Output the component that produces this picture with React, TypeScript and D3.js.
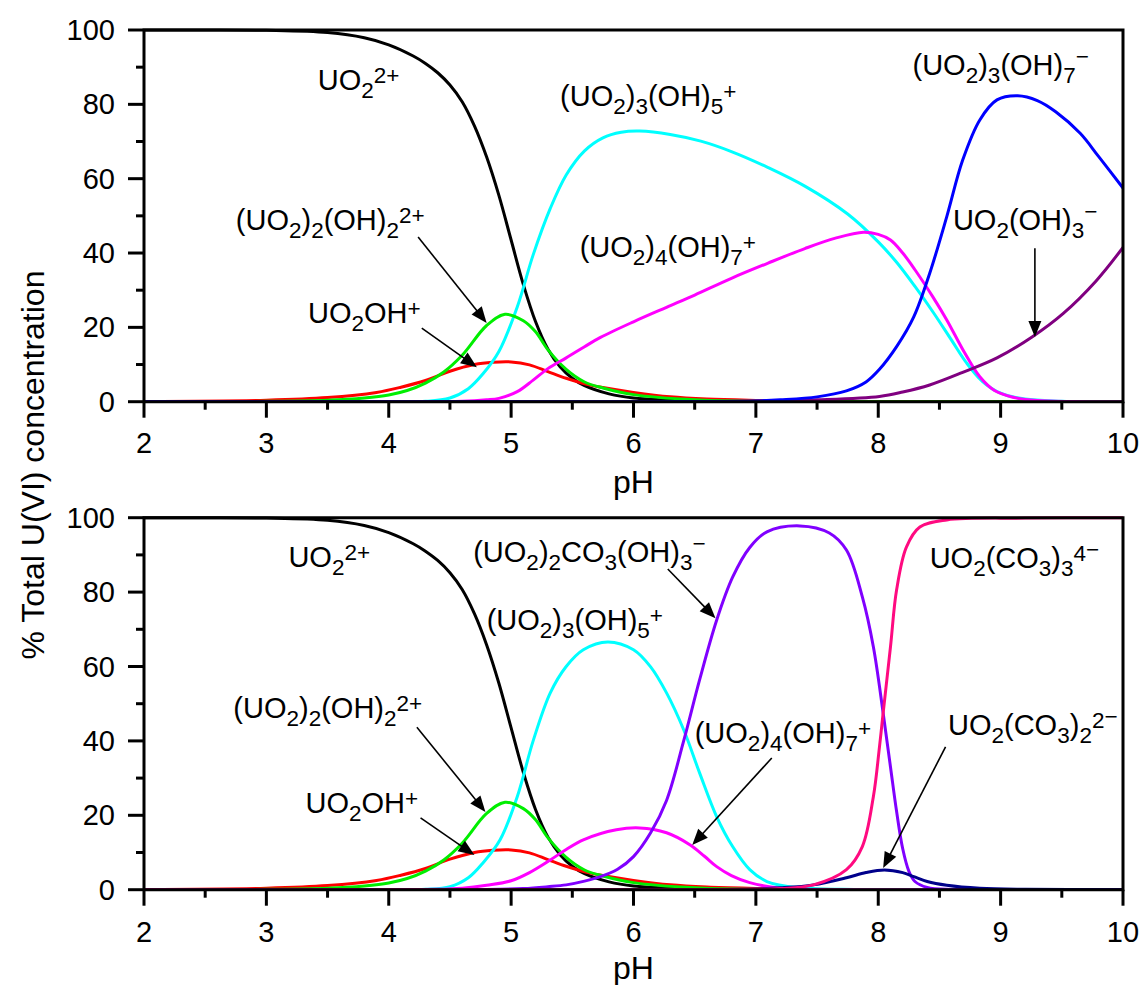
import React from 'react';
import * as d3 from 'd3';

// ---------- axis ticks ----------
const PH_MAJOR = [2, 3, 4, 5, 6, 7, 8, 9, 10];
const PH_MINOR = [2.5, 3.5, 4.5, 5.5, 6.5, 7.5, 8.5, 9.5];
const PCT_MAJOR = [0, 20, 40, 60, 80, 100];
const PCT_MINOR = [10, 30, 50, 70, 90];

// ---------- series data: [pH, % of total U(VI)] ----------
const uo2 = [[2,100],[2.5,100],[3,99.9],[3.5,99.3],[3.8,97.9],[4,96],[4.2,93],[4.3,91],[4.4,88.5],[4.5,85.2],[4.6,80.7],[4.7,74.2],[4.8,65.8],[4.9,55.5],[5,43.5],[5.1,31.5],[5.2,21.5],[5.3,14.2],[5.4,9.4],[5.5,6.3],[5.6,4.3],[5.8,2.1],[6,1],[6.5,0.2],[7,0.05],[8,0],[10,0]];
const dimer = [[2,0],[3,0.1],[3.5,0.4],[3.8,1],[4,1.8],[4.15,3],[4.3,5],[4.45,8],[4.6,12.5],[4.8,20.5],[4.95,23.5],[5.1,21.8],[5.2,18.8],[5.3,14],[5.45,8.7],[5.6,5.3],[5.75,3.7],[6,1.9],[6.5,0.5],[7,0.1],[8,0],[10,0]];
const uo2oh = [[2,0.05],[3,0.4],[3.5,1.1],[3.9,2.5],[4.1,3.9],[4.3,5.7],[4.5,8.2],[4.7,10],[4.85,10.6],[5,10.7],[5.15,9.9],[5.3,8.1],[5.45,6.3],[5.6,4.8],[5.75,3.8],[6,2.5],[6.3,1.3],[6.6,0.7],[7,0.35],[7.5,0.1],[8,0.03],[10,0]];
const trimer5Top = [[2,0],[3,0],[4,0],[4.3,0.1],[4.5,1],[4.65,3.5],[4.77,7.5],[4.9,13.5],[5.05,25.5],[5.18,39.5],[5.32,52],[5.45,61],[5.6,67.5],[5.75,71],[5.9,72.5],[6.05,72.8],[6.3,71.9],[6.55,70.1],[6.8,67.3],[7.1,63],[7.4,58],[7.75,50.5],[8,43],[8.15,37.5],[8.3,31],[8.45,24],[8.6,16.5],[8.72,10.5],[8.85,5.5],[9,2.3],[9.2,0.7],[9.5,0.15],[10,0]];
const tetramerTop = [[2,0],[3,0],[4,0],[4.6,0.1],[4.8,0.5],[4.9,0.9],[5.05,2.7],[5.18,5.8],[5.3,8.9],[5.45,11.8],[5.6,14.8],[5.73,17.3],[6,21.5],[6.27,25.4],[6.5,28.7],[6.8,33.2],[7.1,37.3],[7.4,41.2],[7.65,44],[7.88,45.6],[8,45],[8.1,43.5],[8.2,40],[8.3,35.5],[8.45,28],[8.56,22],[8.7,13.5],[8.83,6.7],[8.95,3],[9.1,1.2],[9.3,0.3],[9.6,0.05],[10,0]];
const trimer7 = [[2,0],[4,0],[6,0],[6.5,0.05],[7,0.2],[7.2,0.5],[7.5,1.3],[7.74,2.9],[7.9,5.3],[8.01,8.7],[8.15,14.8],[8.29,22.8],[8.42,34.5],[8.56,49.8],[8.69,65],[8.83,75.8],[8.97,81.2],[9.14,82.3],[9.3,81],[9.45,78],[9.65,72.2],[9.8,66],[10,57.5]];
const uo2oh3 = [[2,0],[4,0],[6,0],[6.5,0.05],[7,0.15],[7.5,0.5],[8.01,1.4],[8.2,2.6],[8.42,4.5],[8.69,7.9],[8.97,11.8],[9.26,17.5],[9.51,23.7],[9.78,32.5],[10,41.5]];

const trimer5Bot = [[2,0],[3,0],[4,0],[4.3,0.1],[4.5,0.8],[4.65,3.2],[4.77,7.2],[4.91,13.4],[5.05,25],[5.18,40],[5.32,52.9],[5.45,60],[5.59,64.5],[5.79,66.6],[6,64.5],[6.14,59.9],[6.27,52.9],[6.41,43],[6.54,31.4],[6.68,19.6],[6.81,11.6],[6.95,5.4],[7.09,2.2],[7.36,0.5],[7.7,0.1],[8,0],[10,0]];
const tetramerBot = [[2,0],[3,0],[4,0],[4.4,0.1],[4.6,0.4],[4.8,1.2],[5,2.4],[5.15,4.6],[5.32,8],[5.45,10.8],[5.59,13.4],[5.86,16.1],[6.05,16.6],[6.27,15.3],[6.46,12.1],[6.58,9],[6.68,6.2],[6.8,3.8],[6.95,1.9],[7.2,0.4],[7.5,0.05],[8,0],[10,0]];
const carbDimer = [[2,0],[3,0],[4,0],[4.8,0.05],[5.1,0.3],[5.3,0.8],[5.45,1.3],[5.6,2.3],[5.73,3.5],[5.87,5.5],[6,8.9],[6.14,15.3],[6.27,24],[6.41,40],[6.54,56.4],[6.68,72.5],[6.81,84],[6.95,92],[7.09,96.2],[7.36,97.8],[7.6,95.9],[7.74,91.3],[7.87,78.7],[7.96,65.3],[8.04,47.5],[8.1,33],[8.15,21],[8.2,11],[8.25,5],[8.3,2.2],[8.4,0.6],[8.6,0.05],[9,0],[10,0]];
const tricarb = [[2,0],[4,0],[6,0],[7,0.1],[7.2,0.3],[7.47,1.3],[7.74,5.4],[7.87,11.6],[7.96,25],[8.01,38.4],[8.04,47.5],[8.1,65.3],[8.15,80.6],[8.23,92.1],[8.34,97.5],[8.56,99.4],[9.2,99.9],[10,100]];
const dicarb = [[2,0],[4,0],[6,0],[6.5,0.05],[7,0.2],[7.2,0.5],[7.47,1.3],[7.74,3.2],[7.9,4.6],[8.05,5.3],[8.2,4.6],[8.29,3.5],[8.4,2.2],[8.56,1.2],[8.83,0.4],[9.2,0.1],[10,0]];

// ---------- series lists (draw order) ----------
const topSeries = [
  { data: uo2, color: '#000000' },
  { data: uo2oh, color: '#ff0000' },
  { data: trimer5Top, color: '#00ffff' },
  { data: dimer, color: '#00ee00' },
  { data: tetramerTop, color: '#ff00ff' },
  { data: uo2oh3, color: '#800080' },
  { data: trimer7, color: '#0000ff' },
];
const botSeries = [
  { data: uo2, color: '#000000' },
  { data: uo2oh, color: '#ff0000' },
  { data: trimer5Bot, color: '#00ffff' },
  { data: dimer, color: '#00ee00' },
  { data: tetramerBot, color: '#ff00ff' },
  { data: carbDimer, color: '#8000ff' },
  { data: dicarb, color: '#00008b' },
  { data: tricarb, color: '#ff0a80' },
];

// ---------- annotations (in data coordinates) ----------
const topLabels = [
  { text: 'UO_2^{2+}', ph: 3.42, pct: 83.9 },
  { text: '(UO_2)_3(OH)_5^{+}', ph: 5.4, pct: 79.5 },
  { text: '(UO_2)_2(OH)_2^{2+}', ph: 2.75, pct: 46.2 },
  { text: 'UO_2OH^{+}', ph: 3.34, pct: 21.2 },
  { text: '(UO_2)_4(OH)_7^{+}', ph: 5.56, pct: 38.9 },
  { text: '(UO_2)_3(OH)_7^{−}', ph: 8.28, pct: 87.9 },
  { text: 'UO_2(OH)_3^{−}', ph: 8.61, pct: 46.2 },
];
const topArrows = [
  { from: [4.24, 44.3], to: [4.8, 21.2] },
  { from: [4.27, 19.8], to: [4.72, 9.3] },
  { from: [9.28, 41.3], to: [9.28, 17.4] },
];
const botLabels = [
  { text: 'UO_2^{2+}', ph: 3.18, pct: 86.7 },
  { text: '(UO_2)_2(OH)_2^{2+}', ph: 2.73, pct: 46.2 },
  { text: 'UO_2OH^{+}', ph: 3.32, pct: 20.6 },
  { text: '(UO_2)_2CO_3(OH)_3^{−}', ph: 4.69, pct: 88.1 },
  { text: '(UO_2)_3(OH)_5^{+}', ph: 4.8, pct: 69.8 },
  { text: '(UO_2)_4(OH)_7^{+}', ph: 6.5, pct: 39.4 },
  { text: 'UO_2(CO_3)_3^{4−}', ph: 8.42, pct: 86.5 },
  { text: 'UO_2(CO_3)_2^{2−}', ph: 8.57, pct: 41.6 },
];
const botArrows = [
  { from: [4.23, 43.7], to: [4.79, 20.9] },
  { from: [4.26, 19.3], to: [4.7, 9.3] },
  { from: [6.28, 86.2], to: [6.67, 73.0] },
  { from: [7.13, 35.4], to: [6.48, 12.0] },
  { from: [8.55, 38.4], to: [8.04, 5.8] },
];

const FONT = 'Liberation Sans, Arial, Helvetica, sans-serif';

function parseFormula(s: string): [string, string][] {
  const out: [string, string][] = [];
  let buf = '';
  let i = 0;
  const push = (t: string, k: string) => {
    if (!t) return;
    if (out.length && out[out.length - 1][1] === k) out[out.length - 1][0] += t;
    else out.push([t, k]);
  };
  while (i < s.length) {
    const c = s[i];
    if (c === '_' || c === '^') {
      push(buf, 'n');
      buf = '';
      let g = '';
      if (s[i + 1] === '{') {
        const j = s.indexOf('}', i);
        g = s.slice(i + 2, j);
        i = j + 1;
      } else {
        g = s[i + 1];
        i += 2;
      }
      if (c === '_') push(g, 'b');
      else for (const ch of g) push(ch, ch === '−' ? 'm' : 'p');
    } else {
      buf += c;
      i++;
    }
  }
  push(buf, 'n');
  return out;
}

function Formula({ x, y, text }: { x: number; y: number; text: string }) {
  const parts = parseFormula(text);
  let cur = 0;
  return (
    <text x={x} y={y} fontFamily={FONT} fontSize={29} fill="#000">
      {parts.map(([t, k], i) => {
        const off = k === 'b' ? 8 : k === 'p' ? -7 : k === 'm' ? -11 : 0;
        const dy = off - cur;
        cur = off;
        return (
          <tspan key={i} dy={dy} fontSize={k === 'n' ? 29 : 22.5}>
            {t}
          </tspan>
        );
      })}
    </text>
  );
}

function Arrow({ x1, y1, x2, y2 }: { x1: number; y1: number; x2: number; y2: number }) {
  const dx = x2 - x1, dy = y2 - y1;
  const len = Math.hypot(dx, dy);
  const ux = dx / len, uy = dy / len;
  const hl = 16, hw = 6.5;
  const bx = x2 - ux * hl, by = y2 - uy * hl;
  const pts = [
    [x2, y2],
    [bx - uy * hw, by + ux * hw],
    [bx + uy * hw, by - ux * hw],
  ];
  return (
    <g>
      <line x1={x1} y1={y1} x2={bx + ux * 2} y2={by + uy * 2} stroke="#000" strokeWidth={1.6} />
      <polygon points={pts.map((p) => p.join(',')).join(' ')} fill="#000" />
    </g>
  );
}

const X0 = 144, X1 = 1123;

function Panel({ top, bottom, series, labels, arrows, tickBase, titleBase }: any) {
  const x = d3.scaleLinear().domain([2, 10]).range([X0, X1]);
  const y = d3.scaleLinear().domain([0, 100]).range([bottom, top]);
  const line = d3
    .line<number[]>()
    .x((d) => x(d[0]))
    .y((d) => y(d[1]))
    .curve(d3.curveCatmullRom.alpha(0.5));
  const AW = 3;
  return (
    <g>
      <defs>
        <clipPath id={'clip' + top}>
          <rect x={X0} y={top - 5} width={X1 - X0} height={bottom - top + 5} />
        </clipPath>
      </defs>
      <g clipPath={`url(#clip${top})`}>
        {series.map((s: any, i: number) => (
          <path key={i} d={line(s.data) || ''} fill="none" stroke={s.color} strokeWidth={3} strokeLinejoin="round" />
        ))}
      </g>
      {/* frame */}
      <path d={`M${X0},${bottom}V${top}H${X1}V${bottom}H${X0}`} fill="none" stroke="#000" strokeWidth={AW} />
      {/* x ticks */}
      {PH_MAJOR.map((t) => (
        <line key={'xm' + t} x1={x(t)} x2={x(t)} y1={bottom} y2={bottom + 16} stroke="#000" strokeWidth={AW} />
      ))}
      {PH_MINOR.map((t) => (
        <line key={'xn' + t} x1={x(t)} x2={x(t)} y1={bottom} y2={bottom + 8} stroke="#000" strokeWidth={AW} />
      ))}
      {PCT_MAJOR.map((t) => (
        <line key={'ym' + t} x1={X0 - 16} x2={X0} y1={y(t)} y2={y(t)} stroke="#000" strokeWidth={AW} />
      ))}
      {PCT_MINOR.map((t) => (
        <line key={'yn' + t} x1={X0 - 8} x2={X0} y1={y(t)} y2={y(t)} stroke="#000" strokeWidth={AW} />
      ))}
      {PH_MAJOR.map((t) => (
        <text key={'xl' + t} x={x(t)} y={tickBase} textAnchor="middle" fontFamily={FONT} fontSize={29}>
          {t}
        </text>
      ))}
      {PCT_MAJOR.map((t) => (
        <text key={'yl' + t} x={115} y={y(t) + 10} textAnchor="end" fontFamily={FONT} fontSize={29}>
          {t}
        </text>
      ))}
      <text x={(X0 + X1) / 2} y={titleBase} textAnchor="middle" fontFamily={FONT} fontSize={32}>
        pH
      </text>
      {labels.map((l: any, i: number) => (
        <Formula key={i} x={x(l.ph)} y={y(l.pct)} text={l.text} />
      ))}
      {arrows.map((a: any, i: number) => (
        <Arrow key={i} x1={x(a.from[0])} y1={y(a.from[1])} x2={x(a.to[0])} y2={y(a.to[1])} />
      ))}
    </g>
  );
}

export default function App() {
  return (
    <svg
      width={1144}
      height={985}
      viewBox="0 0 1144 985"
      style={{ position: 'absolute', left: 0, top: 0, background: '#fff' }}
    >
      <rect width={1144} height={985} fill="#fff" />
      <Panel top={30} bottom={401.7} series={topSeries} labels={topLabels} arrows={topArrows} tickBase={453} titleBase={493} />
      <Panel top={517.7} bottom={889.7} series={botSeries} labels={botLabels} arrows={botArrows} tickBase={942} titleBase={979} />
      <text
        transform="translate(44,465) rotate(-90)"
        textAnchor="middle"
        fontFamily={FONT}
        fontSize={32}
      >
        % Total U(VI) concentration
      </text>
    </svg>
  );
}
